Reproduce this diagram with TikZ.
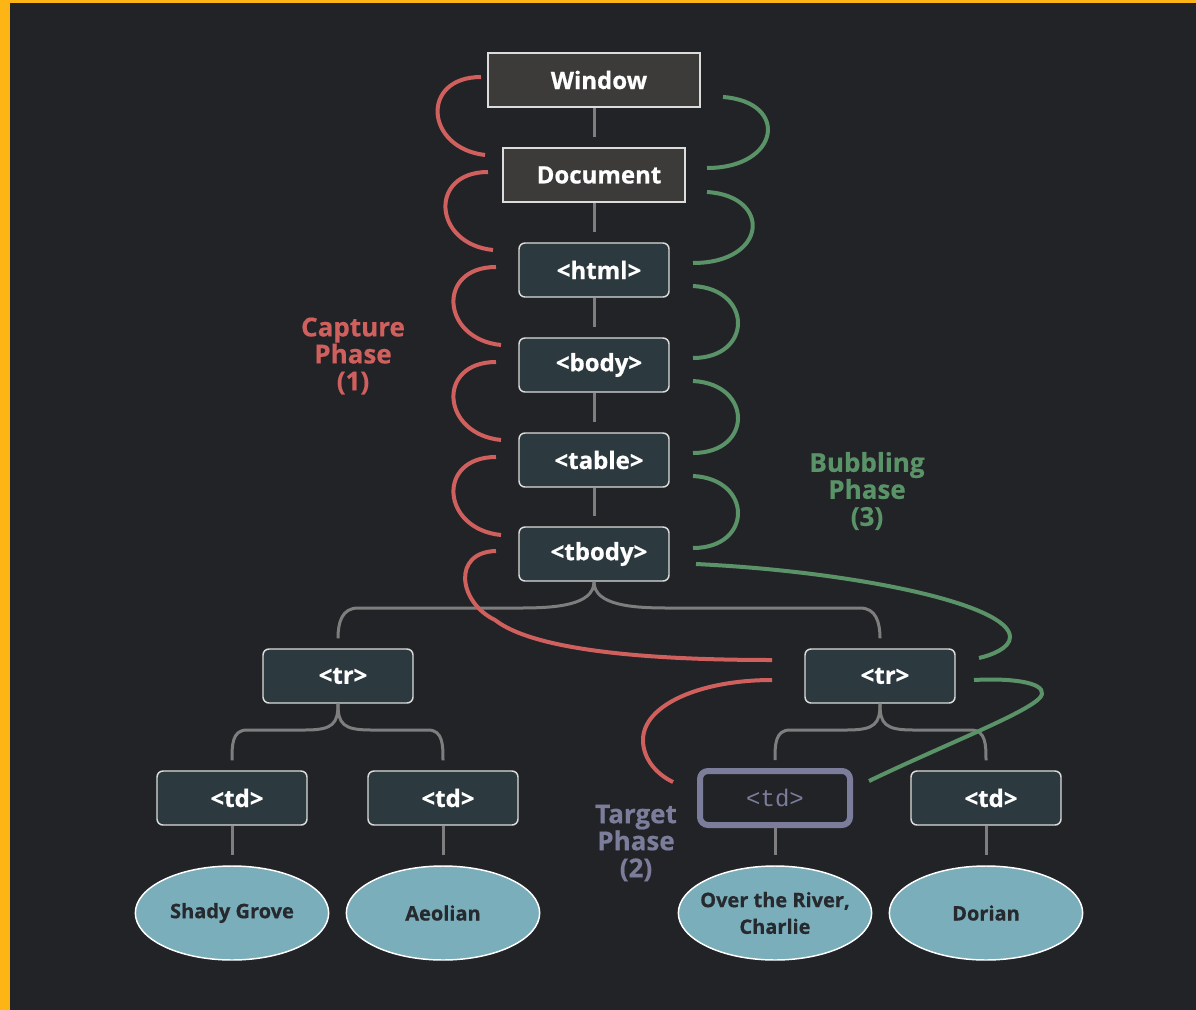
\documentclass[tikz,border=0pt]{standalone}
\usepackage{fontspec}
\setmainfont{Open Sans}[BoldFeatures={FakeBold=0.6}]
\newfontfamily\monof{Liberation Mono}
\usetikzlibrary{shapes.geometric,calc}
\definecolor{bg}{HTML}{222327}
\definecolor{frameor}{HTML}{FDB515}
\definecolor{capred}{HTML}{D0605E}
\definecolor{bubgreen}{HTML}{5B9369}
\definecolor{tgtpurple}{HTML}{7B7D9B}
\definecolor{boxgray}{HTML}{3D3B3A}
\definecolor{boxteal}{HTML}{2C393F}
\definecolor{leafblue}{HTML}{7BAEBB}
\definecolor{leaftext}{HTML}{262A2E}
\definecolor{wire}{HTML}{7E7E7E}
\definecolor{rim}{HTML}{DCDCDC}
\begin{document}
\begin{tikzpicture}[x=0.75pt,y=-0.75pt,
  sqbox/.style={draw=rim, line width=1.1pt, fill=boxgray, minimum height=40.5pt, inner sep=0pt, text=white, font=\fontsize{18}{20}\selectfont\bfseries, execute at begin node={\hspace*{7.5pt}}},
  rbox/.style={sqbox, fill=boxteal, rounded corners=4.5pt, minimum width=112.5pt},
  tgtbox/.style={draw=tgtpurple, line width=4.5pt, fill=bg, rounded corners=6pt, minimum width=112.5pt, minimum height=40.5pt, inner sep=0pt, text=tgtpurple, font=\monof\fontsize{18}{20}\selectfont},
  leaf/.style={ellipse, draw=white, line width=1.1pt, fill=leafblue, minimum width=145pt, minimum height=70.5pt, inner ysep=0pt, inner xsep=-8pt, text=leaftext, align=center, font=\fontsize{15}{20}\selectfont\bfseries},
  wireline/.style={draw=wire, line width=2.25pt},
  capline/.style={draw=capred, line width=3pt},
  bubline/.style={draw=bubgreen, line width=3pt},
  phase/.style={align=center, inner sep=0pt, font=\fontsize{19.5}{20.25}\selectfont\bfseries}
]
% background and frame
\fill[bg] (0,0) rectangle (1196,1010);
\fill[frameor] (0,0) rectangle (10,1010);
\fill[frameor] (0,0) rectangle (1196,3);
\useasboundingbox (0,0) rectangle (1196,1010);

% nodes
\node[sqbox, minimum width=159pt] (win) at (594,80) {Window};
\node[sqbox, minimum width=136.5pt] (doc) at (594,175) {Document};
\node[rbox] (html) at (594,270) {<html>};
\node[rbox] (body) at (594,365) {<body>};
\node[rbox] (table) at (594,460) {<table>};
\node[rbox] (tbody) at (594,554) {<tbody>};
\node[rbox] (tr1) at (338,676) {<tr>};
\node[rbox] (tr2) at (880,676) {<tr>};
\node[rbox] (td1) at (232,798) {<td>};
\node[rbox] (td2) at (443,798) {<td>};
\node[tgtbox] (tdt) at (775,798) {<td>};
\node[rbox] (td4) at (986,798) {<td>};
\node[leaf] (e1) at (232,913) {Shady Grove};
\node[leaf] (e2) at (443,913) {Aeolian};
\node[leaf] (e3) at (775,913) {Over the River,\\Charlie};
\node[leaf] (e4) at (986,913) {Dorian};

\node[phase, text=capred] (cap) at (353,356) {Capture\\Phase\\(1)};
\node[phase, text=bubgreen] (bub) at (867,491) {Bubbling\\Phase\\(3)};
\node[phase, text=tgtpurple] (tgt) at (636,843) {Target\\Phase\\(2)};

% straight tree links
\foreach \a/\b in {win/doc, doc/html, html/body, body/table, table/tbody, td1/e1, td2/e2, tdt/e3, td4/e4}
  \draw[wireline, shorten >=7.5pt] (\a) -- (\b);

% branching tree links
\draw[wireline] (tbody.south) .. controls +(0,24) and +(34,0) .. (520,608) -- (358,608) .. controls +(-16,0) and +(0,-16) .. ($(tr1.north)+(0,-10)$);
\draw[wireline] (tbody.south) .. controls +(0,24) and +(-34,0) .. (668,608) -- (860,608) .. controls +(16,0) and +(0,-16) .. ($(tr2.north)+(0,-10)$);
\draw[wireline] (tr1.south) .. controls +(0,20) and +(28,0) .. (305,730) -- (247,730) .. controls +(-15,0) and +(0,-15) .. ($(td1.north)+(0,-10)$);
\draw[wireline] (tr1.south) .. controls +(0,20) and +(-28,0) .. (371,730) -- (428,730) .. controls +(15,0) and +(0,-15) .. ($(td2.north)+(0,-10)$);
\draw[wireline] (tr2.south) .. controls +(0,20) and +(28,0) .. (847,730) -- (790,730) .. controls +(-15,0) and +(0,-15) .. ($(tdt.north)+(0,-8)$);
\draw[wireline] (tr2.south) .. controls +(0,20) and +(-28,0) .. (913,730) -- (971,730) .. controls +(15,0) and +(0,-15) .. ($(td4.north)+(0,-10)$);

% capture phase arcs
\draw[capline] (481,77) .. controls (420,77) and (425,148) .. (485,155);
\draw[capline] (488,172) .. controls (428,172) and (433,244) .. (493,250);
\foreach \d in {0,95,190}
  \draw[capline] (496,267+\d) .. controls (436,267+\d) and (441,339+\d) .. (501,345+\d);
\draw[capline] (496,551) .. controls (452,552) and (458,602) .. (495,620) .. controls (540,655) and (680,660) .. (772,660);
\draw[capline] (772,680) .. controls (700,680) and (643,705) .. (643,740) .. controls (643,760) and (658,775) .. (673,782);

% bubbling phase arcs
\draw[bubline] (723,97) .. controls (790,102) and (780,168) .. (707,168);
\draw[bubline] (707,192) .. controls (772,196) and (768,263) .. (693,263);
\foreach \d in {0,95,190}
  \draw[bubline] (693,286+\d) .. controls (753,289+\d) and (753,358+\d) .. (693,358+\d);
\draw[bubline] (696,564) .. controls (860,572) and (1010,605) .. (1010,637) .. controls (1010,648) and (992,655) .. (979,658);
\draw[bubline] (974,680) .. controls (1010,678) and (1044,682) .. (1042,694) .. controls (1040,708) and (950,742) .. (869,781);
\end{tikzpicture}
\end{document}
